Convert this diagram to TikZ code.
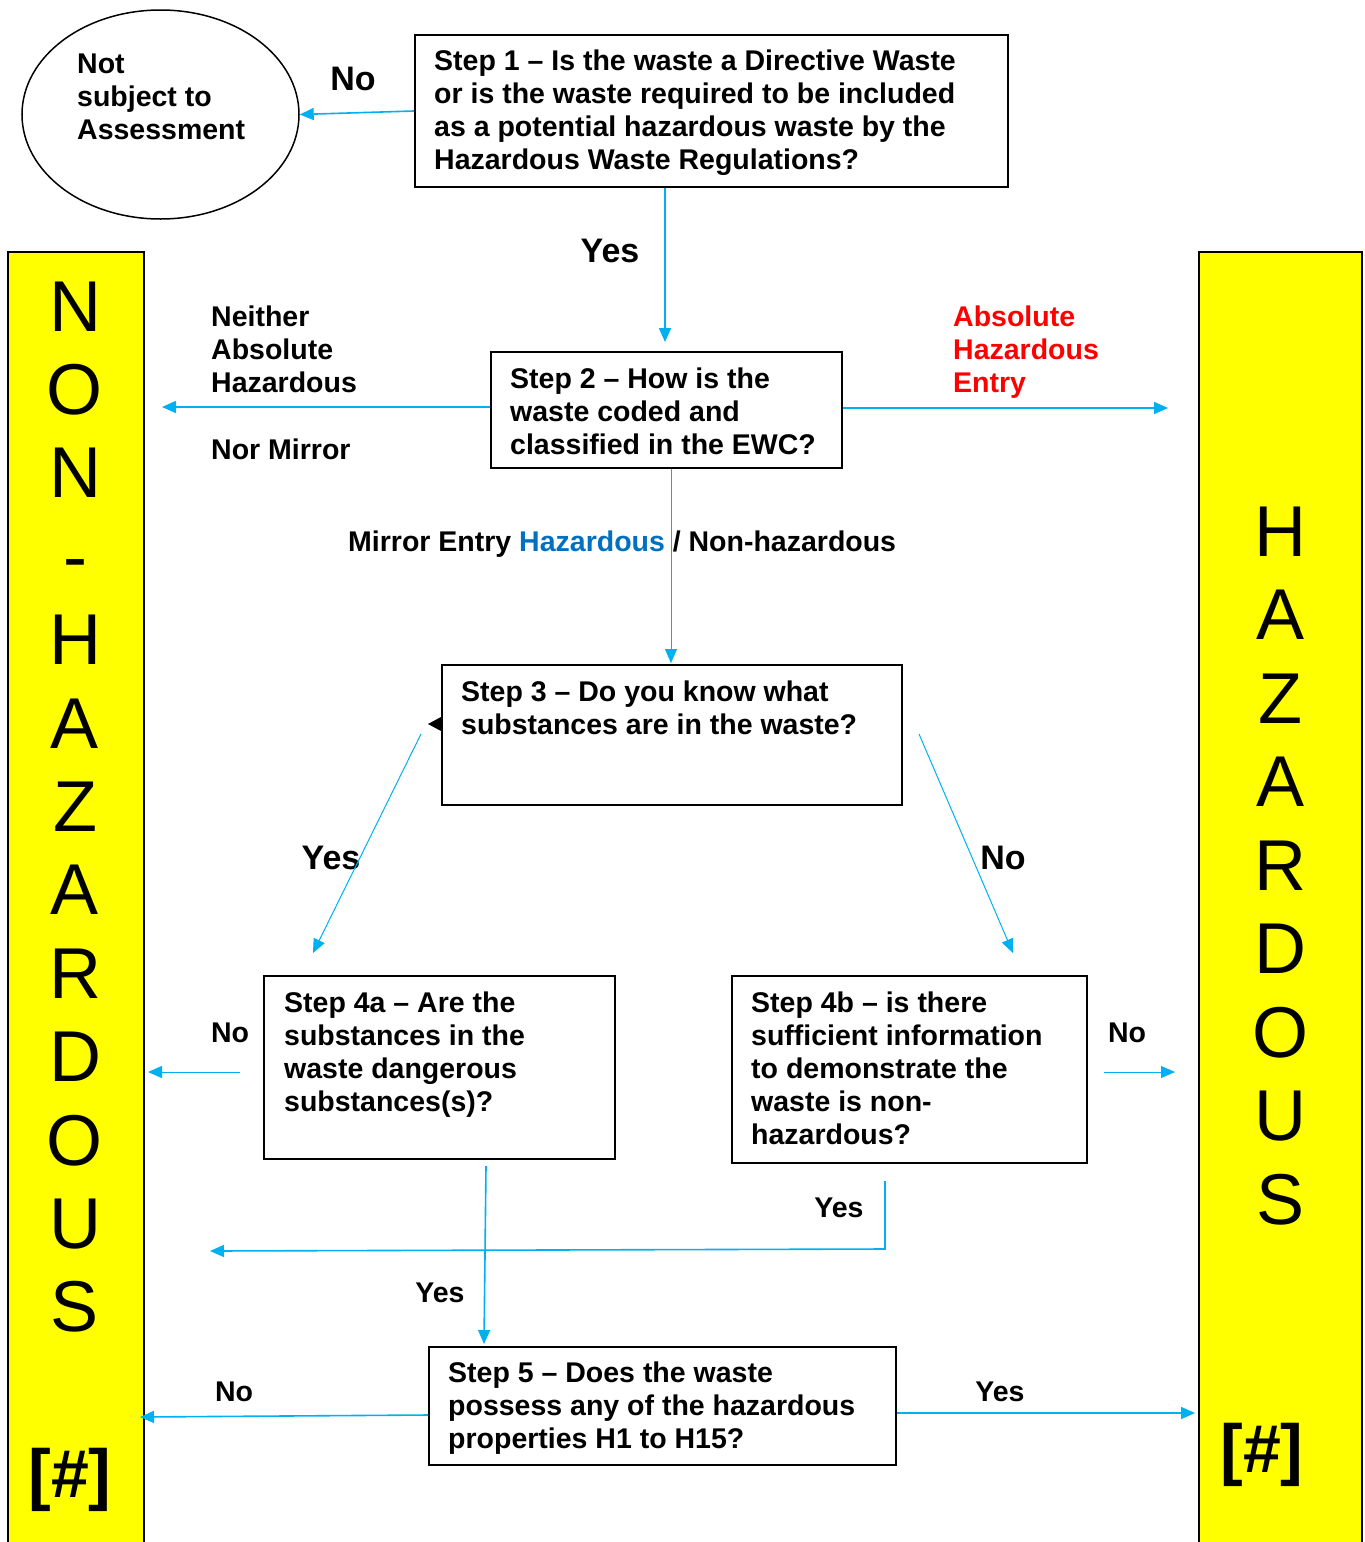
\documentclass[tikz,border=0pt]{standalone}
\usepackage{fontspec}
\setmainfont{Liberation Sans}
\usetikzlibrary{arrows.meta,shapes.geometric}
\definecolor{arrowc}{HTML}{00B0F0}
\definecolor{hazblue}{HTML}{0070C0}
\definecolor{baryellow}{HTML}{FFFF00}
\begin{document}
\begin{tikzpicture}[x=1pt,y=-1pt,
 box/.style={draw=black,line width=2pt,inner sep=0pt,anchor=north west},
 txt/.style={font=\fontsize{28.5}{33}\selectfont\bfseries,align=left,anchor=north west,inner sep=0pt},
 arr/.style={draw=arrowc,line width=1.6pt,-{Triangle[length=14pt,width=12pt]}},
 thinarr/.style={arr,line width=1pt},
 biglab/.style={font=\fontsize{34}{40}\selectfont\bfseries,inner sep=0pt,anchor=base},
 lab/.style={font=\fontsize{28.5}{33}\selectfont\bfseries,inner sep=0pt,anchor=base},
 bar/.style={fill=baryellow,draw=black,line width=2pt,inner sep=0pt,anchor=north west},
 barletter/.style={font=\fontsize{72}{80}\selectfont,inner sep=0pt,anchor=base},
 hashlab/.style={font=\fontsize{68}{74}\selectfont\bfseries,inner sep=0pt}]
\useasboundingbox (0,0) rectangle (1365,1542);

% side bars
\node[bar,minimum width=136,minimum height=1320] (lbar) at (7,251) {};
\node[bar,minimum width=163,minimum height=1320] (rbar) at (1198,251) {};
\foreach \l [count=\i] in {N,O,N,-,H,A,Z,A,R,D,O,U,S}
  \node[barletter] (nh\i) at (75,{331+(\i-1)*83.4}) {\l};
\foreach \l [count=\i] in {H,A,Z,A,R,D,O,U,S}
  \node[barletter] (hz\i) at (1280,{556+(\i-1)*83.5}) {\l};
\node[hashlab] (lhash) at (70,1480) {[\#]};
\node[hashlab] (rhash) at (1262,1455) {[\#]};

% ellipse
\node[draw=black,ellipse,line width=1.5pt,minimum width=277,minimum height=209,inner sep=0pt] (ell) at (160.5,114.5) {};
\node[txt] (ellt) at (77,54) {Not\\subject to\\Assessment};

% boxes
\node[box,minimum width=593,minimum height=152] (s1) at (414,34) {};
\node[txt] (s1t) at (434,50) {Step 1 – Is the waste a Directive Waste\\or is the waste required to be included\\as a potential hazardous waste by the\\Hazardous Waste Regulations?};
\node[box,minimum width=351,minimum height=116] (s2) at (490,351) {};
\node[txt] (s2t) at (510,368) {Step 2 – How is the\\waste coded and\\classified in the EWC?};
\node[box,minimum width=460,minimum height=140] (s3) at (441,664) {};
\node[txt] (s3t) at (461,681) {Step 3 – Do you know what\\substances are in the waste?};
\node[box,minimum width=351,minimum height=183] (s4a) at (263,975) {};
\node[txt] (s4at) at (284,992) {Step 4a – Are the\\substances in the\\waste dangerous\\substances(s)?};
\node[box,minimum width=355,minimum height=187] (s4b) at (731,975) {};
\node[txt] (s4bt) at (751,992) {Step 4b – is there\\sufficient information\\to demonstrate the\\waste is non-\\hazardous?};
\node[box,minimum width=467,minimum height=118] (s5) at (428,1346) {};
\node[txt] (s5t) at (448,1362) {Step 5 – Does the waste\\possess any of the hazardous\\properties H1 to H15?};

% labels
\node[biglab] (l1) at (353,90) {No};
\node[biglab] (l2) at (610,262) {Yes};
\node[txt] (l3) at (211,306) {Neither\\Absolute\\Hazardous};
\node[lab,anchor=base west] (l4) at (211,459) {Nor Mirror};
\node[txt,text=red] (l5) at (953,306) {Absolute\\Hazardous\\Entry};
\node[lab,anchor=base west] (l6) at (348,551) {Mirror Entry \textcolor{hazblue}{Hazardous} / Non-hazardous};
\node[biglab] (l7) at (331,869) {Yes};
\node[biglab] (l8) at (1003,869) {No};
\node[lab] (l9) at (230,1042) {No};
\node[lab] (l10) at (1127,1042) {No};
\node[lab] (l11) at (839,1217) {Yes};
\node[lab] (l12) at (440,1302) {Yes};
\node[lab] (l13) at (234,1401) {No};
\node[lab] (l14) at (1000,1401) {Yes};

% connector ends
\coordinate (a2) at (665,342);
\coordinate (a3) at (162,407);
\coordinate (a4) at (1168,408);
\coordinate (a5) at (671,663);
\coordinate (d1s) at (421,734);
\coordinate (d1e) at (313,953);
\coordinate (d2s) at (919,734);
\coordinate (d2e) at (1013,953);
\coordinate (b1s) at (240,1072);
\coordinate (b1e) at (148,1072);
\coordinate (b2s) at (1104,1072);
\coordinate (b2e) at (1175,1072);
\coordinate (c1s) at (486,1166);
\coordinate (c1e) at (484,1344);
\coordinate (y1s) at (885,1181);
\coordinate (y1m) at (885,1249);
\coordinate (y1e) at (210,1251);
\coordinate (n5e) at (140,1417);
\coordinate (y5e) at (1195,1413);

% connectors
\draw[arr] (s1.west) -- (ell.east);
\draw[arr] (s1.south -| a2) -- (a2);
\draw[arr] (s2.west |- a3) -- (a3);
\draw[arr] (s2.east |- a4) -- (a4);
\draw[thinarr] (s2.south -| a5) -- (a5);
\draw[thinarr] (d1s) -- (d1e);
\draw[thinarr] (d2s) -- (d2e);
\draw[thinarr] (b1s) -- (b1e);
\draw[thinarr] (b2s) -- (b2e);
\draw[arr] (c1s) -- (c1e);
\draw[arr] (y1s) -- (y1m) -- (y1e);
\draw[arr] (s5.west |- 0,1415) -- (n5e);
\draw[arr] (s5.east |- y5e) -- (y5e);
\fill[black] (428,724) -- (441,717) -- (441,731) -- cycle;
\end{tikzpicture}
\end{document}
